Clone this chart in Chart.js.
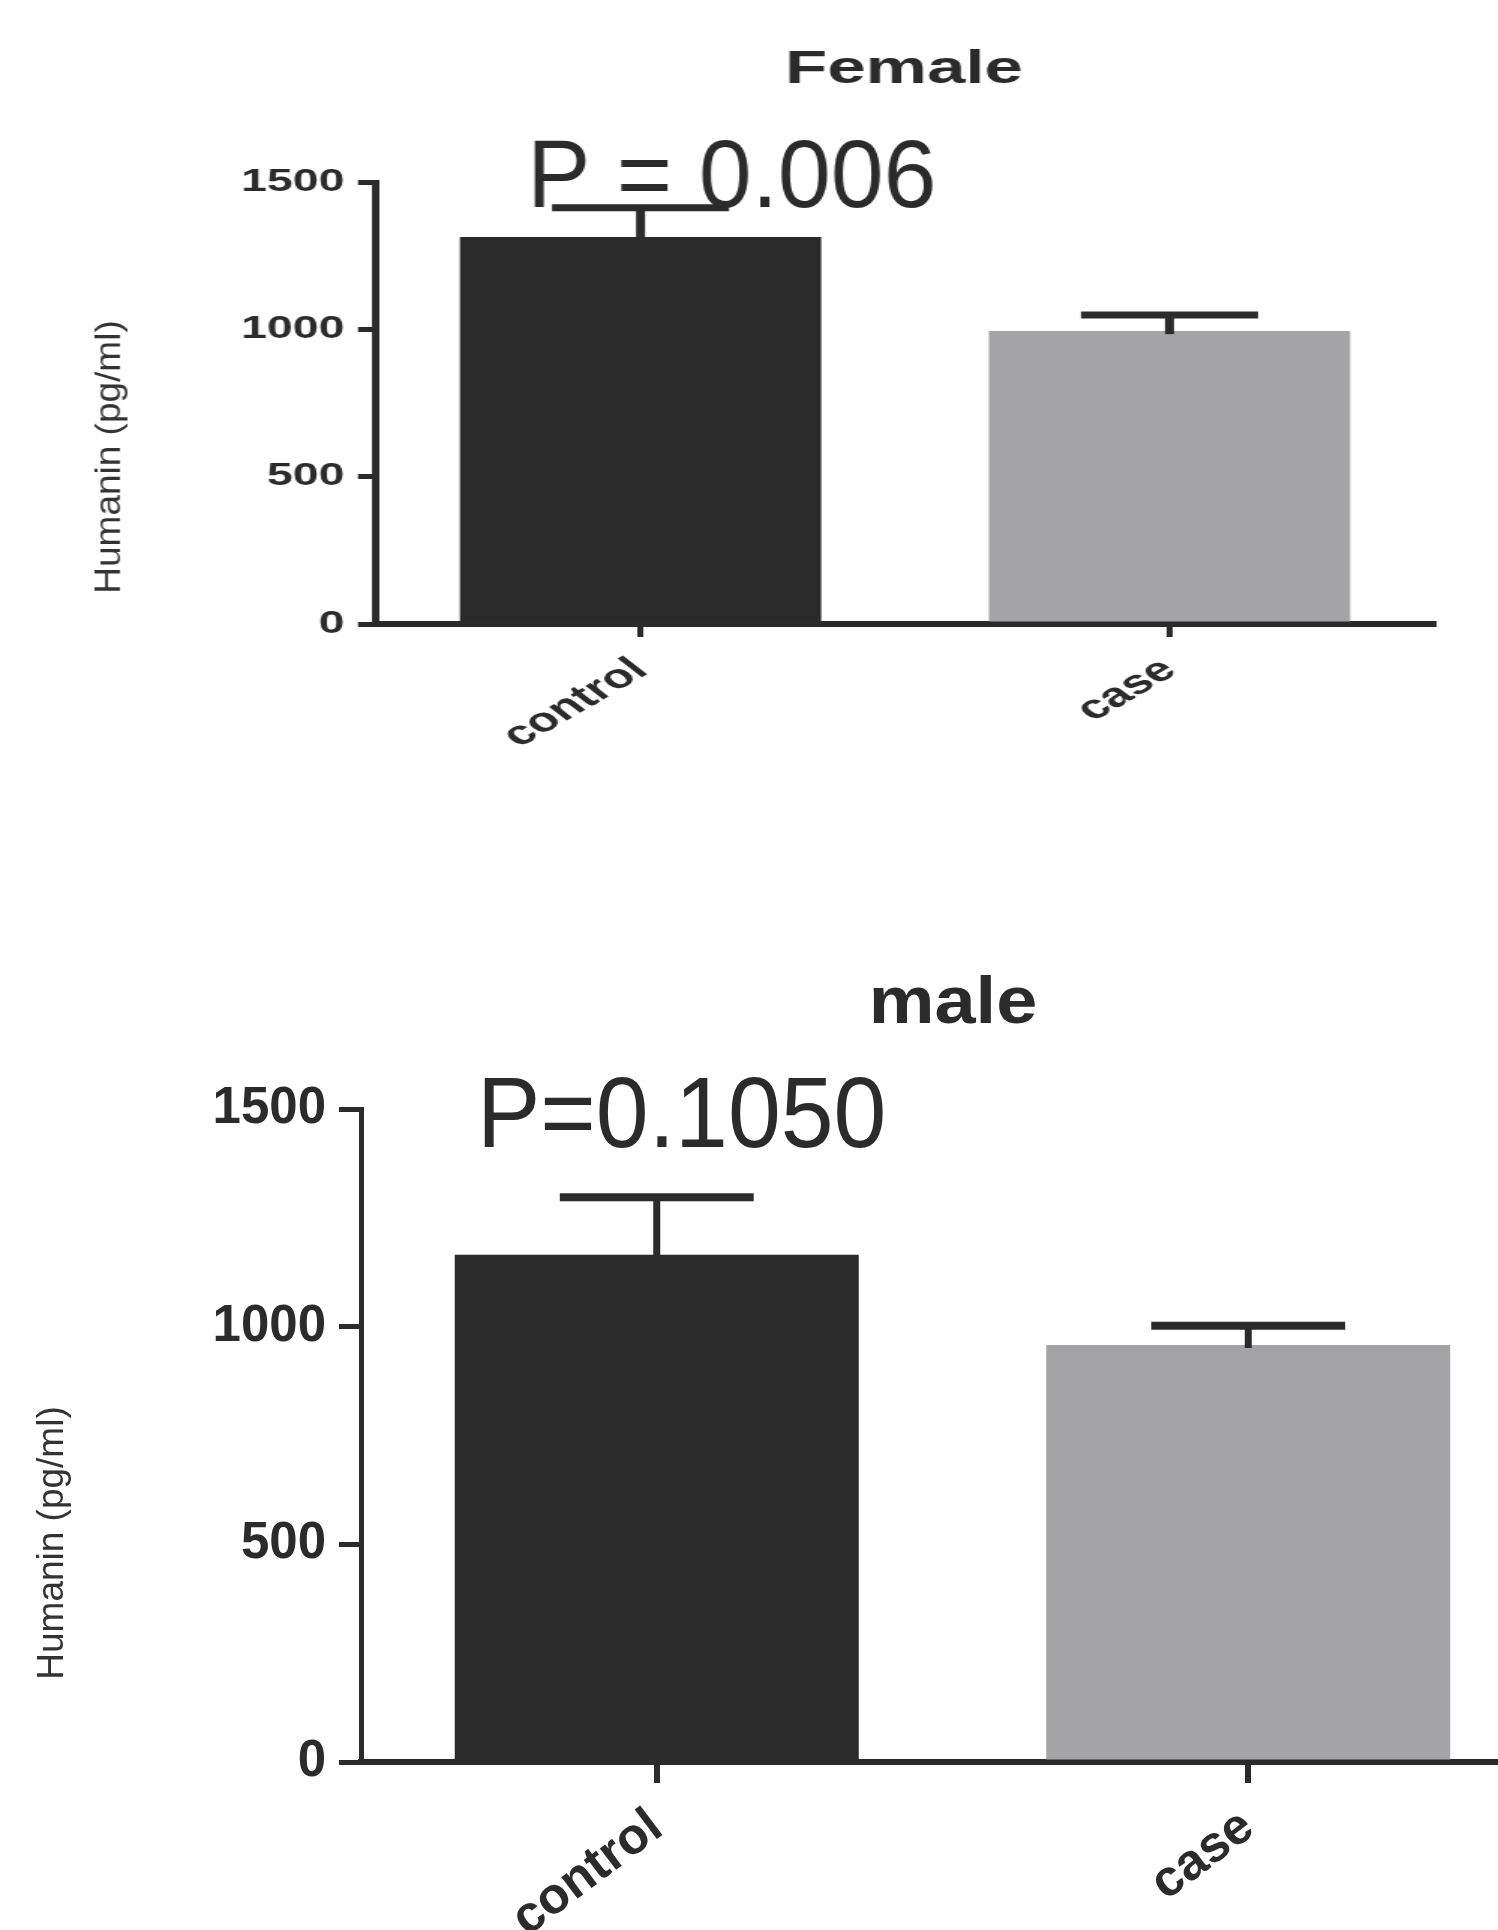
<!DOCTYPE html>
<html><head><meta charset="utf-8">
<script src="https://cdn.jsdelivr.net/npm/chart.js@4.4.1/dist/chart.umd.min.js"></script>
<style>
html,body{margin:0;padding:0;background:#fff;overflow:hidden;width:1498px;height:1930px;}
#wrap{position:relative;width:1498px;height:1930px;overflow:hidden;background:#fff;}
canvas{position:absolute;left:0;}
</style></head><body>
<div id="wrap">
<canvas id="female" width="999" height="930" style="top:0px;width:1498px;height:930px;"></canvas>
<canvas id="male" width="1560" height="1000" style="top:930px;width:1560px;height:1000px;"></canvas>
</div>
<script>
// ---- data ----
const categories = ['control', 'case'];
const yTickValues = [0, 500, 1000, 1500];
const femaleMeans = [1313, 994];
const femaleSEM = [100, 55];
const maleMeans = [1165, 958];
const maleSEM = [132, 44];
const barColors = ['#2a2a2a', '#a4a4a6'];
const femaleTitle = 'Female';
const maleTitle = 'male';
const yAxisTitle = 'Humanin (pg/ml)';
const femaleP = 'P = 0.006';
const maleP = 'P=0.1050';

Chart.defaults.font.family = "'Liberation Sans', Arial, sans-serif";
Chart.defaults.color = '#2b2b2b';
const ink = '#2b2b2b';

function buildChart(cfg) {
  const canvas = document.getElementById(cfg.id);
  const W = canvas.width, H = canvas.height;
  const sx = cfg.cssW / W;
  const leftI = cfg.axisLeft / sx, rightI = cfg.axisRight / sx;

  const overlay = {
    id: 'overlay_' + cfg.id,
    afterDatasetsDraw(chart) {
      const ctx = chart.ctx, y = chart.scales.y;
      const meta = chart.getDatasetMeta(0);
      ctx.save();
      ctx.strokeStyle = ink; ctx.lineCap = 'butt';
      meta.data.forEach((bar, i) => {
        const top = y.getPixelForValue(cfg.means[i] + cfg.sem[i]);
        const half = bar.width * cfg.capRatio / 2;
        ctx.lineWidth = cfg.stemW;
        ctx.beginPath(); ctx.moveTo(bar.x, bar.y + 3); ctx.lineTo(bar.x, top); ctx.stroke();
        ctx.lineWidth = cfg.capW;
        ctx.beginPath(); ctx.moveTo(bar.x - half, top); ctx.lineTo(bar.x + half, top); ctx.stroke();
      });
      ctx.restore();
    },
    afterDraw(chart) {
      const ctx = chart.ctx;
      ctx.save();
      ctx.fillStyle = ink;
      // chart title
      ctx.save();
      ctx.translate(cfg.titleX / sx, cfg.titleY);
      ctx.scale(cfg.titleScaleX, 1);
      ctx.font = cfg.titleFont; ctx.textAlign = 'center'; ctx.textBaseline = 'alphabetic';
      ctx.fillText(cfg.title, 0, 0);
      ctx.restore();
      // y axis title (unstretched)
      ctx.save();
      ctx.fillStyle = '#333333';
      ctx.translate(cfg.yTitleX / sx, cfg.yTitleY);
      ctx.scale(1 / sx, 1);
      ctx.rotate(-Math.PI / 2);
      ctx.font = cfg.yTitleFont; ctx.textAlign = 'center'; ctx.textBaseline = 'middle';
      ctx.fillText(yAxisTitle, 0, 0);
      ctx.restore();
      // P value
      ctx.save();
      ctx.translate(cfg.pX / sx, cfg.pY);
      ctx.scale(cfg.pScaleX / sx, 1);
      ctx.font = cfg.pFont; ctx.textAlign = 'left'; ctx.textBaseline = 'alphabetic';
      ctx.fillText(cfg.pText, 0, 0);
      ctx.restore();
      ctx.restore();
    }
  };

  return new Chart(canvas, {
    type: 'bar',
    data: {
      labels: categories,
      datasets: [{
        data: cfg.means,
        backgroundColor: barColors,
        borderWidth: 0,
        barPercentage: 0.683,
        categoryPercentage: 1
      }]
    },
    options: {
      responsive: false,
      animation: false,
      devicePixelRatio: 1,
      layout: { padding: { top: cfg.top, right: W - rightI, left: 0, bottom: 0 } },
      plugins: { legend: { display: false }, tooltip: { enabled: false }, title: { display: false } },
      scales: {
        x: {
          offset: true,
          grid: { display: true, drawOnChartArea: false, drawTicks: true, offset: false,
                  tickLength: cfg.xTickLen, lineWidth: cfg.xTickLW, color: ink },
          border: { display: true, color: ink, width: cfg.xBorderW },
          ticks: { font: { size: cfg.xTickSize, weight: 'bold' }, color: ink,
                   minRotation: cfg.rot, maxRotation: cfg.rot, padding: cfg.xTickPad, autoSkip: false },
          afterFit: s => { s.height = H - cfg.bottom; }
        },
        y: {
          min: 0, max: 1500,
          grid: { display: true, drawOnChartArea: false, drawTicks: true,
                  tickLength: cfg.yTickLen, lineWidth: cfg.yTickLW, color: ink },
          border: { display: true, color: ink, width: cfg.yBorderW },
          ticks: { font: { size: cfg.yTickSize, weight: 'bold' }, color: ink, padding: cfg.yTickPad,
                   autoSkip: false, callback: v => String(v) },
          afterBuildTicks: s => { s.ticks = yTickValues.map(v => ({ value: v })); },
          afterFit: s => { s.width = leftI; }
        }
      }
    },
    plugins: [overlay]
  });
}

buildChart({
  id: 'female', cssW: 1498,
  axisLeft: 376, axisRight: 1434, top: 182, bottom: 624,
  means: femaleMeans, sem: femaleSEM,
  yTickSize: 31, yTickPad: 9, yTickLen: 12, yTickLW: 5, yBorderW: 5,
  xTickSize: 34, rot: 41, xTickLen: 13, xTickLW: 4, xBorderW: 6, xTickPad: 13,
  title: femaleTitle, titleFont: "bold 46px 'Liberation Sans'", titleX: 904, titleY: 83, titleScaleX: 1,
  yTitleX: 109.5, yTitleY: 457, yTitleFont: "37px 'Liberation Sans'",
  pText: femaleP, pX: 527, pY: 207, pFont: "97px 'Liberation Sans'", pScaleX: 0.98,
  stemW: 6, capW: 7, capRatio: 0.49
});

buildChart({
  id: 'male', cssW: 1560,
  axisLeft: 361, axisRight: 1544, top: 179, bottom: 832,
  means: maleMeans, sem: maleSEM,
  yTickSize: 51, yTickPad: 13, yTickLen: 22, yTickLW: 5, yBorderW: 5,
  xTickSize: 51, rot: 37, xTickLen: 21, xTickLW: 6, xBorderW: 6, xTickPad: 14,
  title: maleTitle, titleFont: "bold 66px 'Liberation Sans'", titleX: 953, titleY: 93, titleScaleX: 1.12,
  yTitleX: 52.5, yTitleY: 613, yTitleFont: "37px 'Liberation Sans'",
  pText: maleP, pX: 477, pY: 217, pFont: "100px 'Liberation Sans'", pScaleX: 0.95,
  stemW: 7, capW: 8, capRatio: 0.48
});
</script>
</body></html>
